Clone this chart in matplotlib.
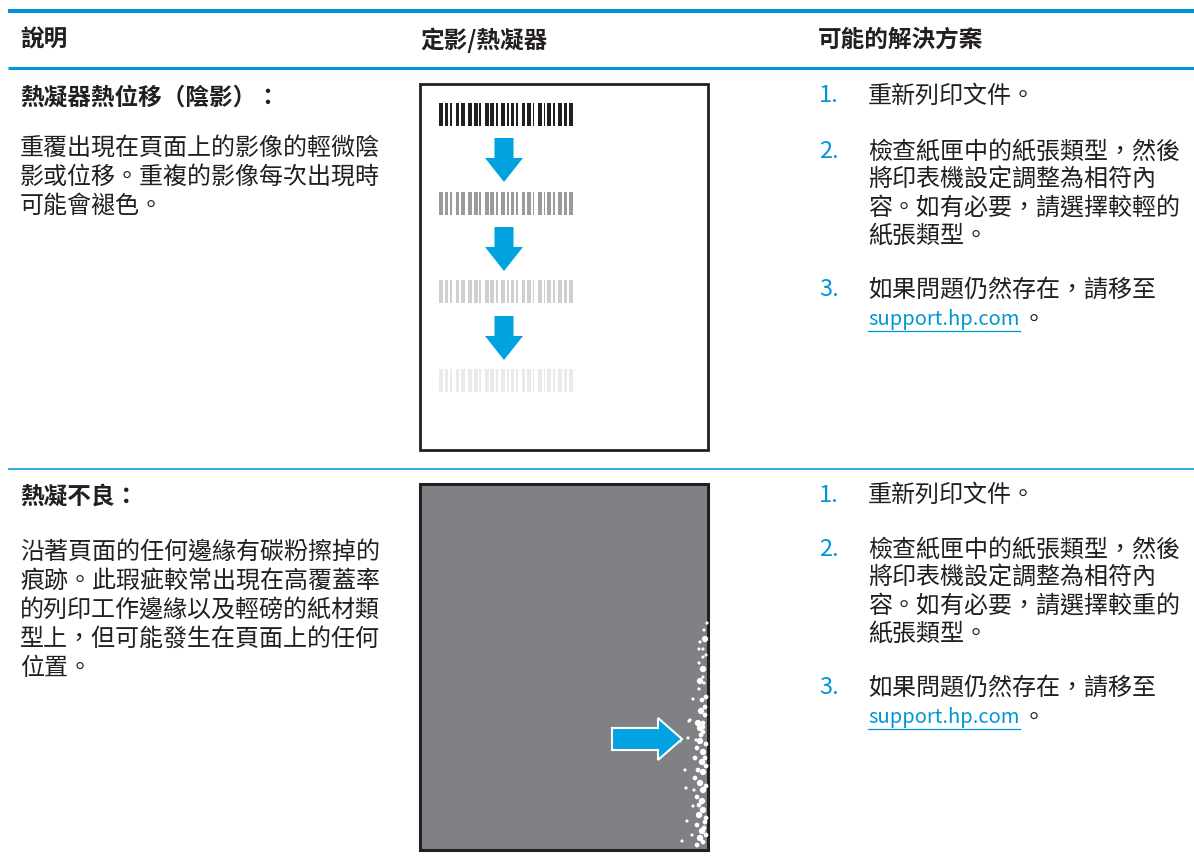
import matplotlib
matplotlib.use("Agg")
import matplotlib.pyplot as plt
from matplotlib.patches import Rectangle, Polygon

plt.rcParams['font.family'] = ['Noto Sans CJK TC', 'DejaVu Sans']

# 文字內容
headers = ["說明", "定影/熱凝器", "可能的解決方案"]
titles = ["熱凝器熱位移（陰影）：", "熱凝不良："]
desc_lines = [
    ["重覆出現在頁面上的影像的輕微陰", "影或位移。重複的影像每次出現時", "可能會褪色。"],
    ["沿著頁面的任何邊緣有碳粉擦掉的", "痕跡。此瑕疵較常出現在高覆蓋率",
     "的列印工作邊緣以及輕磅的紙材類", "型上，但可能發生在頁面上的任何", "位置。"],
]
steps = [
    [["重新列印文件。"],
     ["檢查紙匣中的紙張類型，然後", "將印表機設定調整為相符內", "容。如有必要，請選擇較輕的", "紙張類型。"],
     ["如果問題仍然存在，請移至"]],
    [["重新列印文件。"],
     ["檢查紙匣中的紙張類型，然後", "將印表機設定調整為相符內", "容。如有必要，請選擇較重的", "紙張類型。"],
     ["如果問題仍然存在，請移至"]],
]
link = "support.hp.com"

# 條碼（1 = 黑條, 0 = 空白）
barcode = "1101101001101100110110100110110100110101101001101101001101011010011011011"
barcode_colors = ["#231f20", "#9a9b9d", "#cfd0d2", "#e9eaeb"]

# 碳粉擦掉的白點 (x, y, 大小)
speckles = [
    (707, 623, 2), (704, 630, 2), (705, 639, 4), (700, 642, 2), (703, 649, 2), (699, 649, 2),
    (703, 657, 2), (699, 663, 2), (703, 669, 4), (703, 677, 2), (700, 681, 4), (704, 683, 2),
    (699, 689, 2), (706, 697, 3), (693, 699, 2), (702, 700, 3), (705, 707, 3), (701, 711, 4),
    (705, 715, 3), (689, 721, 2), (698, 723, 4), (703, 723, 3), (703, 727, 3), (700, 728, 4),
    (703, 732, 3), (688, 738, 2), (700, 741, 4), (706, 744, 3), (697, 748, 3), (703, 752, 4),
    (695, 758, 3), (702, 762, 4), (706, 766, 3), (685, 770, 2), (703, 772, 4), (695, 778, 3),
    (700, 783, 4), (706, 786, 3), (686, 788, 2), (703, 790, 4), (697, 797, 3), (702, 801, 4),
    (693, 806, 2), (703, 810, 4), (699, 815, 4), (706, 818, 3), (687, 821, 2), (705, 822, 3),
    (697, 825, 3), (702, 831, 4), (692, 835, 2), (700, 838, 4), (682, 841, 2), (703, 842, 3),
    (697, 845, 3), (706, 835, 3), (680, 741, 2), (690, 720, 2), (694, 790, 2), (698, 770, 3),
    (706, 655, 2), (701, 735, 3), (705, 758, 3), (699, 805, 3), (704, 828, 3), (696, 740, 2),
]

BLUE = "#0096d6"
ARROW = "#00a3e0"
TEXT = "#231f20"

fig = plt.figure(figsize=(11.94, 8.67), dpi=100)
ax = fig.add_axes([0, 0, 1, 1])
ax.set_xlim(0, 1194)
ax.set_ylim(867, 0)
ax.axis('off')

# 表格線
ax.plot([8, 1194], [11, 11], color=BLUE, lw=2.9, solid_capstyle='butt')
ax.plot([8, 1194], [67.5, 67.5], color=BLUE, lw=2.2, solid_capstyle='butt')
ax.plot([8, 1194], [469, 469], color=BLUE, lw=1.1, solid_capstyle='butt')

col_x = [20, 420, 818]
for x, h in zip(col_x, headers):
    ax.text(x, 40, h, fontsize=17, fontweight='bold', color=TEXT, va='center')

# 左欄
title_y = [98, 497]
desc_y0 = [148, 552]
for t, ty, lines, y0 in zip(titles, title_y, desc_lines, desc_y0):
    ax.text(20, ty, t, fontsize=17, fontweight='bold', color=TEXT, va='center')
    for i, line in enumerate(lines):
        ax.text(20, y0 + i * 29, line, fontsize=17.3, color=TEXT, va='center')

# 右欄
step_y = [[[96], [152, 180, 208, 236], [290]], [[495], [550, 578, 606, 634], [688]]]
links = []
for row, ys in zip(steps, step_y):
    for n, (item, iy) in enumerate(zip(row, ys)):
        ax.text(819, iy[0], f"{n + 1}.", fontsize=17, fontweight='medium', color=BLUE, va='center')
        for line, y in zip(item, iy):
            ax.text(868, y, line, fontsize=17.3, color=TEXT, va='center')
    ly = ys[2][0] + 30
    t = ax.text(868, ly, link, fontsize=14.5, color=BLUE, va='center')
    links.append((t, ly))

fig.canvas.draw()
inv = ax.transData.inverted()
for t, ly in links:
    bb = t.get_window_extent()
    (x0, _), (x1, _) = inv.transform([[bb.x0, bb.y0], [bb.x1, bb.y1]])
    ax.plot([x0, x1], [ly + 11, ly + 11], color=BLUE, lw=0.9)
    ax.text(x1 + 2, ly, "。", fontsize=17.3, color=TEXT, va='center')

# 頁面 1：陰影
ax.add_patch(Rectangle((420, 84), 288, 366, facecolor='white', edgecolor=TEXT, lw=2))
bar_top = [103, 192, 280, 369]
module = 134 / len(barcode)
for top, c in zip(bar_top, barcode_colors):
    spans = [(439 + i * module, module) for i, b in enumerate(barcode) if b == "1"]
    ax.broken_barh(spans, (top, 23), facecolors=c)


def down_arrow(cx, top):
    pts = [(cx - 9.5, top), (cx + 9.5, top), (cx + 9.5, top + 20), (cx + 19, top + 20),
           (cx, top + 44), (cx - 19, top + 20), (cx - 9.5, top + 20)]
    ax.add_patch(Polygon(pts, closed=True, facecolor=ARROW, edgecolor='none'))


for top in [138, 227, 316]:
    down_arrow(504, top)

# 頁面 2：熱凝不良
ax.add_patch(Rectangle((420, 484), 288, 366, facecolor='#808184', edgecolor=TEXT, lw=2.2))
sx = [p[0] for p in speckles]
sy = [p[1] for p in speckles]
ss = [p[2] ** 2 * 1.3 for p in speckles]
ax.scatter(sx, sy, s=ss, color='white', linewidths=0, zorder=3)

pts = [(612, 728), (658, 728), (658, 718), (682, 739), (658, 760), (658, 750), (612, 750)]
ax.add_patch(Polygon(pts, closed=True, facecolor=ARROW, edgecolor='white', lw=1.5, zorder=4))

fig.savefig("out.png", dpi=100)
